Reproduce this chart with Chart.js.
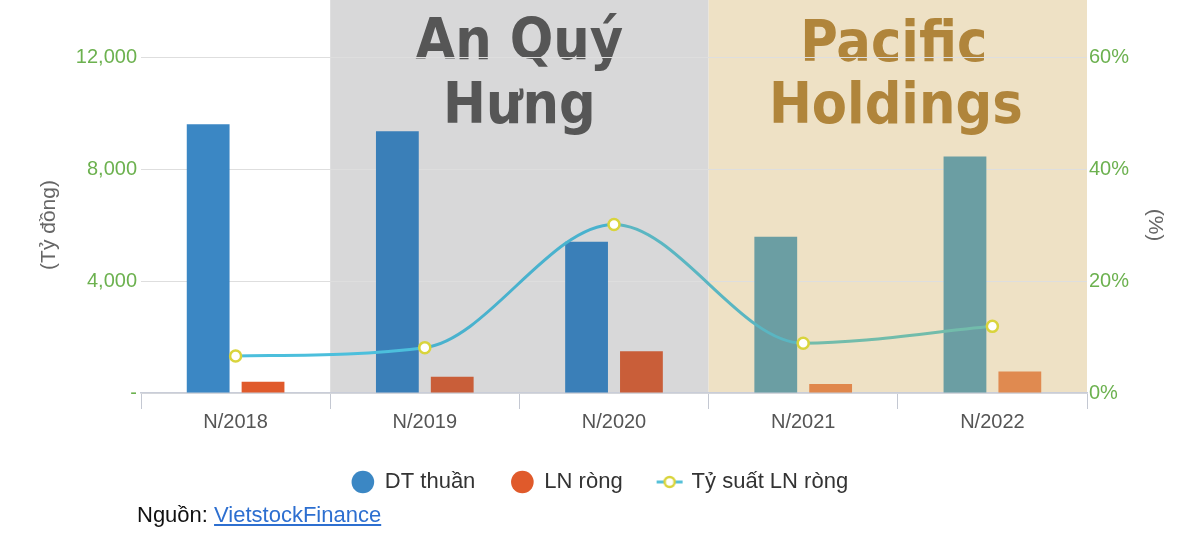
<!DOCTYPE html>
<html><head><meta charset="utf-8">
<script src="https://cdn.jsdelivr.net/npm/chart.js@4.4.0/dist/chart.umd.min.js"></script>
<style>
html,body{margin:0;padding:0;background:#fff;}
#wrap{position:relative;width:1200px;height:553px;}
#src{position:absolute;left:137px;top:502px;font:22px "Liberation Sans",Arial,sans-serif;color:#111;z-index:2;}
#src a{color:#2d6fd0;text-decoration:underline;}
</style></head><body>
<div id="wrap"><canvas id="c" width="1200" height="553"></canvas>
<div id="src">Nguồn: <a href="#">VietstockFinance</a></div></div>
<script>
const categories = ['N/2018', 'N/2019', 'N/2020', 'N/2021', 'N/2022'];
const dtThuan = [9600, 9350, 5400, 5580, 8450];
const lnRong = [400, 580, 1490, 320, 770];
const tySuat = [6.6, 8.1, 30.1, 8.9, 11.9];
const leftTicks = [0, 4000, 8000, 12000];
const rightTicks = [0, 20, 40, 60];
const seriesNames = ['DT thuần', 'LN ròng', 'Tỷ suất LN ròng'];
const panelTitles = [['An Quý', 'Hưng'], ['Pacific', 'Holdings']];

const FAMILY = '"Liberation Sans", Arial, sans-serif';
const blueColors = ['#3b87c4', '#3a7fb8', '#3a7fb8', '#6b9ea3', '#6b9ea3'];
const redColors = ['#e05a2b', '#c95e39', '#c95e39', '#e0874c', '#e08a50'];
const lineSegColors = ['#4cbfdc', '#49b2ce', '#5ab6c2', '#72bcab'];

// legend icon for the line series
const lineIcon = document.createElement('canvas');
lineIcon.width = 30; lineIcon.height = 14;
(function(){
  const g = lineIcon.getContext('2d');
  g.strokeStyle = '#55c0d8'; g.lineWidth = 3;
  g.beginPath(); g.moveTo(2, 7); g.lineTo(28, 7); g.stroke();
  g.fillStyle = '#ffffff'; g.strokeStyle = '#d9d43c'; g.lineWidth = 2.5;
  g.beginPath(); g.arc(15, 7, 5, 0, Math.PI * 2); g.fill(); g.stroke();
})();

const panels = {
  id: 'panels',
  beforeDraw(chart) {
    const { ctx, chartArea, scales: { x } } = chart;
    const b0 = x.getPixelForValue(0.5), b1 = x.getPixelForValue(2.5), b2 = chartArea.right;
    ctx.save();
    ctx.fillStyle = '#d8d8d9';
    ctx.fillRect(b0, 0, b1 - b0, chartArea.bottom);
    ctx.fillStyle = '#eee1c5';
    ctx.fillRect(b1, 0, b2 - b1, chartArea.bottom);
    ctx.font = 'bold 57px "DejaVu Sans Condensed", "Open Sans", sans-serif';
    ctx.textAlign = 'center';
    ctx.textBaseline = 'alphabetic';
    ctx.fillStyle = '#565656';
    ctx.fillText(panelTitles[0][0], (b0 + b1) / 2, 59);
    ctx.fillText(panelTitles[0][1], (b0 + b1) / 2, 123);
    ctx.fillStyle = '#b0853b';
    ctx.fillText(panelTitles[1][0], (b1 + b2) / 2 - 4, 61);
    ctx.fillText(panelTitles[1][1], (b1 + b2) / 2 - 2, 123);
    ctx.restore();
  }
};

new Chart(document.getElementById('c'), {
  data: {
    labels: categories,
    datasets: [
      { type: 'bar', label: seriesNames[0], data: dtThuan, backgroundColor: blueColors, yAxisID: 'y',
        categoryPercentage: 0.58, barPercentage: 0.78, order: 1 },
      { type: 'bar', label: seriesNames[1], data: lnRong, backgroundColor: redColors, yAxisID: 'y',
        categoryPercentage: 0.58, barPercentage: 0.78, order: 1 },
      { type: 'line', label: seriesNames[2], data: tySuat, yAxisID: 'y1', order: 0,
        borderColor: '#4cbfdc', borderWidth: 3, cubicInterpolationMode: 'monotone',
        segment: { borderColor: c => lineSegColors[c.p0DataIndex] },
        pointRadius: 5.5, pointBorderWidth: 2.5, pointBorderColor: '#d9d43c', pointBackgroundColor: '#ffffff' }
    ]
  },
  options: {
    responsive: false,
    animation: false,
    layout: { padding: { top: 57, bottom: 50, left: 0, right: 0 } },
    plugins: {
      tooltip: { enabled: false },
      legend: {
        position: 'bottom',
        labels: {
          usePointStyle: true, boxWidth: 30, boxHeight: 16, padding: 36, color: '#333',
          font: { size: 22, family: FAMILY },
          generateLabels(chart) {
            const items = Chart.defaults.plugins.legend.labels.generateLabels(chart);
            items.sort((a, b) => a.datasetIndex - b.datasetIndex);
            items.forEach(it => { if (it.datasetIndex === 2) it.pointStyle = lineIcon; });
            return items;
          }
        }
      }
    },
    scales: {
      x: {
        offset: true,
        grid: { offset: true, drawOnChartArea: false, drawTicks: true, tickLength: 16, color: '#c4c8d2' },
        border: { display: true, color: '#c9cdd8', width: 1.5 },
        ticks: { color: '#555', font: { size: 20, family: FAMILY }, padding: 1 },
        afterFit(s) { s.height = 42; }
      },
      y: {
        position: 'left', min: 0, max: 12000,
        afterBuildTicks(s) { s.ticks = leftTicks.map(v => ({ value: v })); },
        ticks: { color: '#6cb14f', font: { size: 20, family: FAMILY }, padding: 4,
          callback: v => v === 0 ? '-' : v.toLocaleString('en-US') },
        grid: { color: '#dedede', drawTicks: false },
        border: { display: false },
        title: { display: true, text: '(Tỷ đồng)', color: '#666', font: { size: 21, family: FAMILY }, padding: { top: 37, bottom: 0 } },
        afterFit(s) { s.width = 141; }
      },
      y1: {
        position: 'right', min: 0, max: 60,
        afterBuildTicks(s) { s.ticks = rightTicks.map(v => ({ value: v })); },
        ticks: { color: '#6cb14f', font: { size: 20, family: FAMILY }, padding: 2, callback: v => v + '%' },
        grid: { display: false, drawTicks: false },
        border: { display: false },
        title: { display: true, text: '(%)', color: '#666', font: { size: 21, family: FAMILY }, padding: { top: 33, bottom: 0 } },
        afterFit(s) { s.width = 113; }
      }
    }
  },
  plugins: [panels]
});
</script>
</body></html>
